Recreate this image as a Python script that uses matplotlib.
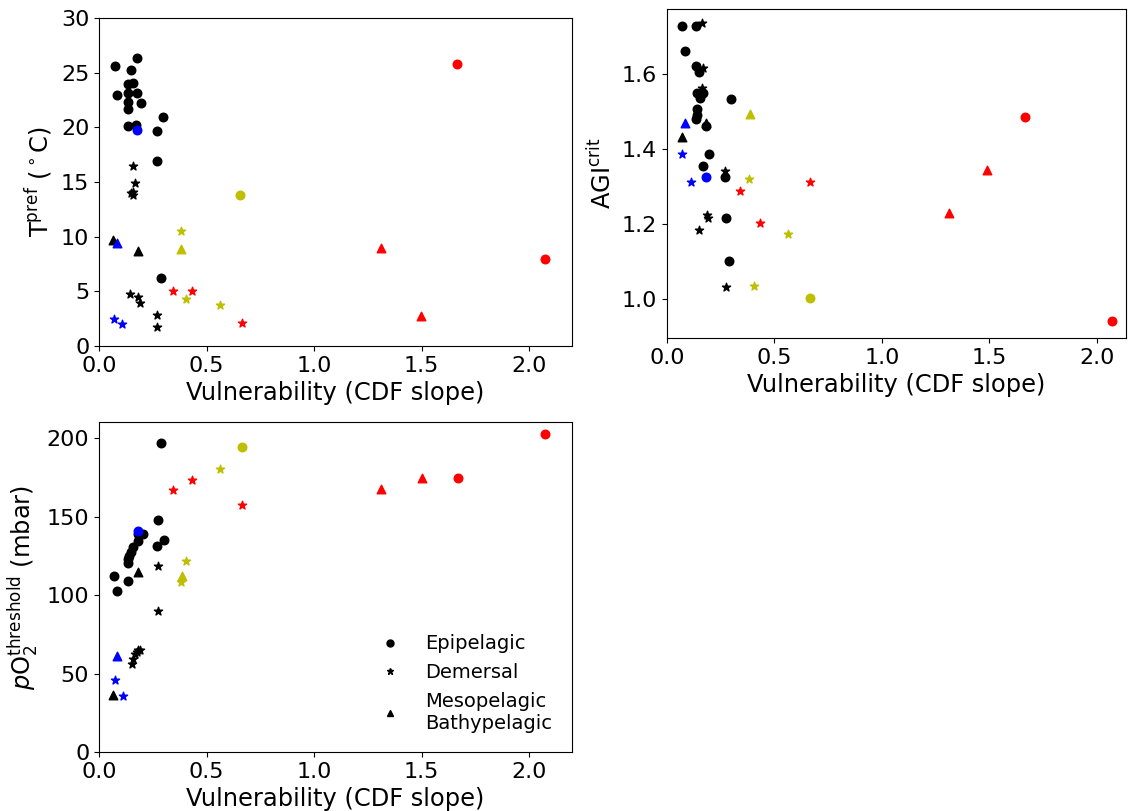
import numpy as np
import matplotlib
matplotlib.use('Agg')
import matplotlib.pyplot as plt
from matplotlib.lines import Line2D

# style code: colour letter + marker ('o' epipelagic, '*' demersal, '^' meso/bathypelagic)

# panel 1: thermal preference
t_x = [0.074, 0.175, 0.147, 0.085, 0.136, 0.16, 0.136, 0.175, 0.136, 0.197, 0.136, 0.136, 0.172, 0.299, 0.27, 0.27, 0.287,
       0.175, 0.656, 1.665, 2.074,
       0.157, 0.169, 0.157, 0.157, 0.15, 0.144, 0.18, 0.19, 0.27, 0.27,
       0.071, 0.107, 0.381, 0.405, 0.563, 0.343, 0.433, 0.664,
       0.064, 0.18, 0.085, 0.381, 1.31, 1.498]
t_y = [25.6, 26.3, 25.2, 23.0, 24.0, 24.1, 23.1, 23.1, 22.35, 22.2, 21.7, 20.1, 20.2, 20.9, 19.7, 16.9, 6.25,
       19.8, 13.8, 25.8, 7.96,
       16.5, 14.9, 14.1, 13.8, 14.0, 4.73, 4.5, 3.9, 2.84, 1.77,
       2.44, 2.04, 10.5, 4.3, 3.75, 5.06, 5.06, 2.07,
       9.7, 8.7, 9.4, 8.85, 9.0, 2.7]
t_style = ['ko'] * 17 + ['bo', 'yo', 'ro', 'ro'] + ['k*'] * 10 + \
          ['b*', 'b*', 'y*', 'y*', 'y*', 'r*', 'r*', 'r*'] + ['k^', 'k^', 'b^', 'y^', 'r^', 'r^']

# panel 2: AGI crit
a_x = [0.071, 0.133, 0.082, 0.133, 0.149, 0.138, 0.153, 0.169, 0.296, 0.141, 0.141, 0.135, 0.18, 0.197, 0.167, 0.27, 0.276, 0.287,
       0.18, 0.664, 1.665, 2.07,
       0.161, 0.169, 0.161, 0.27, 0.185, 0.19, 0.15, 0.274,
       0.071, 0.112, 0.381, 0.406, 0.561, 0.341, 0.433, 0.664,
       0.068, 0.18, 0.082, 0.386, 1.31, 1.49]
a_y = [1.729, 1.729, 1.66, 1.62, 1.606, 1.549, 1.535, 1.549, 1.532, 1.506, 1.49, 1.48, 1.462, 1.387, 1.355, 1.325, 1.215, 1.1,
       1.326, 1.003, 1.485, 0.94,
       1.735, 1.615, 1.562, 1.34, 1.224, 1.215, 1.184, 1.031,
       1.387, 1.313, 1.32, 1.035, 1.174, 1.288, 1.203, 1.313,
       1.433, 1.47, 1.469, 1.492, 1.229, 1.344]
a_style = ['ko'] * 18 + ['bo', 'yo', 'ro', 'ro'] + ['k*'] * 8 + \
          ['b*', 'b*', 'y*', 'y*', 'y*', 'r*', 'r*', 'r*'] + ['k^', 'k^', 'b^', 'y^', 'r^', 'r^']

# panel 3: pO2 threshold
p_x = [0.288, 0.276, 0.301, 0.27, 0.203, 0.183, 0.18, 0.16, 0.147, 0.141, 0.136, 0.136, 0.071, 0.136, 0.085,
       0.183, 0.664, 1.67, 2.074,
       0.273, 0.276, 0.183, 0.167, 0.157, 0.152, 0.175, 0.19,
       0.073, 0.113, 0.563, 0.406, 0.383, 0.346, 0.434, 0.664,
       0.183, 0.067, 0.085, 0.388, 1.31, 1.5]
p_y = [197.3, 148.1, 135.2, 131.2, 138.9, 138.9, 134.6, 130.8, 127.8, 125.1, 123.0, 120.8, 111.9, 108.8, 102.4,
       141.1, 194.3, 175.0, 202.5,
       118.3, 89.7, 65.2, 62.6, 59.5, 56.3, 64.0, 64.8,
       46.1, 36.0, 180.5, 121.9, 108.6, 166.8, 173.3, 157.3,
       114.9, 36.4, 61.0, 111.9, 167.6, 174.6]
p_style = ['ko'] * 15 + ['bo', 'yo', 'ro', 'ro'] + ['k*'] * 8 + \
          ['b*', 'b*', 'y*', 'y*', 'y*', 'r*', 'r*', 'r*'] + ['k^', 'k^', 'b^', 'y^', 'r^', 'r^']

legend_labels = ['Epipelagic', 'Demersal', 'Mesopelagic\nBathypelagic']

plt.rcParams['font.size'] = 16
LABEL_SIZE = 17.4


def draw(ax, xs, ys, styles):
    xs = np.array(xs)
    ys = np.array(ys)
    styles = np.array(styles)
    for st in ['ko', 'k*', 'k^', 'bo', 'b*', 'b^', 'yo', 'y*', 'y^', 'ro', 'r*', 'r^']:
        m = styles == st
        if m.any():
            ax.scatter(xs[m], ys[m], c=st[0], marker=st[1], s=38)
    ax.set_xticks([0.0, 0.5, 1.0, 1.5, 2.0])
    ax.set_xlabel('Vulnerability (CDF slope)', fontsize=LABEL_SIZE)


fig = plt.figure(figsize=(11.28, 8.11), dpi=100)
ax1 = fig.add_axes([99/1128, 1-346/811, 473/1128, 328/811])
ax2 = fig.add_axes([667/1128, 1-338/811, 459/1128, 329/811])
ax3 = fig.add_axes([99/1128, 1-752/811, 473/1128, 330/811])

draw(ax1, t_x, t_y, t_style)
ax1.set_xlim(0, 2.2)
ax1.set_ylim(0, 30)
ax1.set_ylabel('T$^{\\rm pref}$ ($^\\circ$C)', fontsize=LABEL_SIZE)

draw(ax2, a_x, a_y, a_style)
ax2.set_xlim(0, 2.135)
ax2.set_ylim(0.896, 1.773)
ax2.set_yticks([1.0, 1.2, 1.4, 1.6])
ax2.set_ylabel('AGI$^{\\rm crit}$', fontsize=LABEL_SIZE)

draw(ax3, p_x, p_y, p_style)
ax3.set_xlim(0, 2.2)
ax3.set_ylim(0, 210.4)
ax3.set_ylabel('$p$O$_2^{\\rm threshold}$ (mbar)', fontsize=LABEL_SIZE)

handles = [Line2D([], [], color='k', marker=m, linestyle='none', markersize=5) for m in ['o', '*', '^']]
ax3.legend(handles, legend_labels, loc='lower right', frameon=False, fontsize=14,
           bbox_to_anchor=(0.995, 0.005))

fig.savefig('out.png', dpi=100)
